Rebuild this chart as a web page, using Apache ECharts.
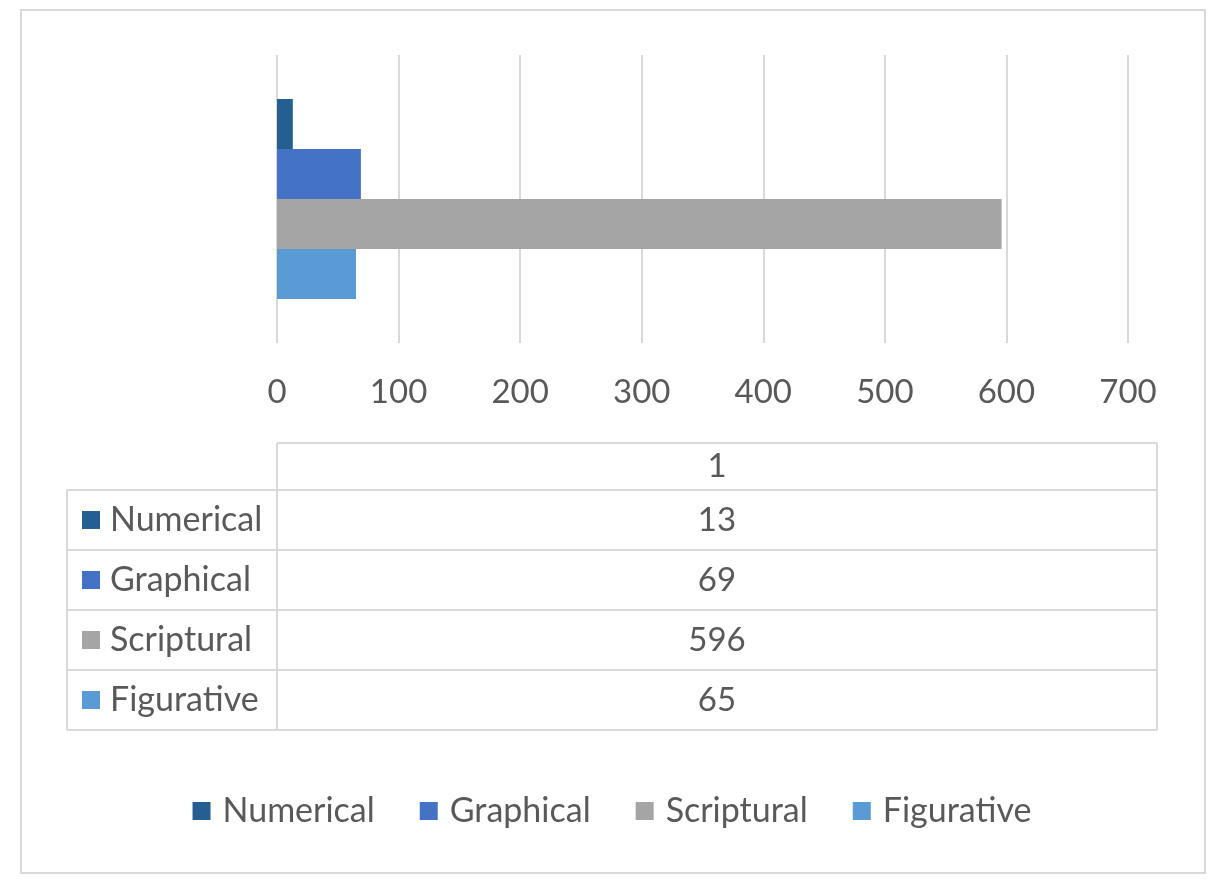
<!DOCTYPE html>
<html>
<head>
<meta charset="utf-8">
<script src="https://cdn.jsdelivr.net/npm/echarts@6/dist/echarts.min.js"></script>
<style>
  html, body { margin: 0; padding: 0; background: #fff; }
  #main { width: 1224px; height: 892px; }
</style>
</head>
<body>
<div id="main"></div>
<script>
// data
var categories = ['1'];
var seriesNames = ['Numerical', 'Graphical', 'Scriptural', 'Figurative'];
var seriesValues = [[13], [69], [596], [65]];
var colors = ['#255e91', '#4472c4', '#a5a5a5', '#5b9bd5'];
var xTicks = [0, 100, 200, 300, 400, 500, 600, 700];

var chart = echarts.init(document.getElementById('main'));
var fontFam = 'Lato, "Noto Sans", sans-serif';
var txtColor = '#595959';
var lineColor = '#d9d9d9';

// data table under the axis
function buildTable() {
  var els = [];
  var left = 67, mid = 277, right = 1157;
  var headTop = 443, headH = 47, rowH = 60;
  var rowsTop = headTop + headH;
  var bottom = rowsTop + rowH * seriesNames.length;
  function line(x1, y1, x2, y2) {
    els.push({ type: 'line', shape: { x1: x1, y1: y1, x2: x2, y2: y2 },
      style: { stroke: lineColor, lineWidth: 2 } });
  }
  // header row
  line(mid, headTop, right, headTop);
  line(mid, headTop, mid, bottom);
  line(right, headTop, right, bottom);
  line(left, rowsTop, right, rowsTop);
  line(left, rowsTop, left, bottom);
  els.push({ type: 'text', x: (mid + right) / 2, y: headTop + headH / 2,
    style: { text: categories[0], fill: txtColor, font: '33px ' + fontFam, align: 'center', verticalAlign: 'middle' } });
  for (var i = 0; i < seriesNames.length; i++) {
    var y0 = rowsTop + rowH * i;
    line(left, y0 + rowH, right, y0 + rowH);
    els.push({ type: 'rect', shape: { x: 82, y: y0 + rowH / 2 - 9, width: 18, height: 18 },
      style: { fill: colors[i] } });
    els.push({ type: 'text', x: 110, y: y0 + rowH / 2,
      style: { text: seriesNames[i], fill: txtColor, font: '34px ' + fontFam, verticalAlign: 'middle' } });
    els.push({ type: 'text', x: (mid + right) / 2, y: y0 + rowH / 2,
      style: { text: String(seriesValues[i][0]), fill: txtColor, font: '33px ' + fontFam, align: 'center', verticalAlign: 'middle' } });
  }
  // outer border
  els.push({ type: 'rect', shape: { x: 21, y: 10, width: 1184, height: 863 },
    style: { fill: 'none', stroke: lineColor, lineWidth: 2 } });
  return els;
}

var series = seriesNames.map(function (name, i) {
  return {
    name: name,
    type: 'bar',
    data: seriesValues[i],
    barWidth: 50,
    barGap: '0%',
    itemStyle: { color: colors[i] }
  };
});

chart.setOption({
  animation: false,
  backgroundColor: '#fff',
  color: colors,
  textStyle: { fontFamily: fontFam },
  grid: { left: 277, right: 96, top: 55, bottom: 549 },
  legend: {
    data: seriesNames,
    bottom: 59,
    left: 'center',
    itemWidth: 18,
    itemHeight: 18,
    itemGap: 45,
    icon: 'rect',
    textStyle: { color: txtColor, fontSize: 34, fontFamily: fontFam, padding: [0, 0, 0, 7] }
  },
  xAxis: {
    type: 'value',
    min: xTicks[0],
    max: xTicks[xTicks.length - 1],
    interval: 100,
    axisLine: { show: false },
    axisTick: { show: false },
    axisLabel: { color: txtColor, fontSize: 33, margin: 33, fontFamily: fontFam },
    splitLine: { lineStyle: { color: lineColor, width: 2 } }
  },
  yAxis: {
    type: 'category',
    data: categories,
    inverse: true,
    axisLine: { show: false },
    axisTick: { show: false },
    axisLabel: { show: false }
  },
  series: series,
  graphic: buildTable()
});
</script>
</body>
</html>
